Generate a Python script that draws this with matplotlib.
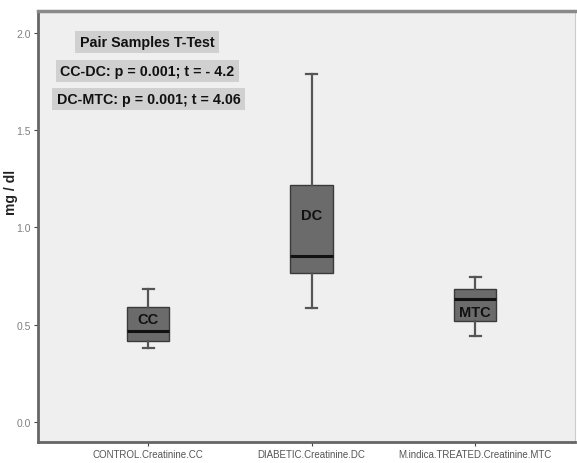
import matplotlib
matplotlib.use("Agg")
import matplotlib.pyplot as plt

plt.rcParams['font.family'] = ['Liberation Sans', 'DejaVu Sans']

categories = ["CONTROL.Creatinine.CC", "DIABETIC.Creatinine.DC", "M.indica.TREATED.Creatinine.MTC"]
box_labels = ["CC", "DC", "MTC"]
whislo = [0.38, 0.585, 0.442]
q1 = [0.416, 0.766, 0.519]
med = [0.468, 0.853, 0.632]
q3 = [0.59, 1.218, 0.683]
whishi = [0.683, 1.788, 0.745]
label_y = [0.53, 1.064, 0.565]
yticks = [0.0, 0.5, 1.0, 1.5, 2.0]
annotations = ["Pair Samples T-Test", "CC-DC: p = 0.001; t = - 4.2", "DC-MTC: p = 0.001; t = 4.06"]

fig = plt.figure(figsize=(5.77, 4.64), dpi=100)
ax = fig.add_axes([38/577, 21/464, 537/577, 431/464])
ax.set_facecolor('#efefef')

stats = []
for i in range(3):
    stats.append(dict(whislo=whislo[i], q1=q1[i], med=med[i], q3=q3[i], whishi=whishi[i], fliers=[]))

ax.bxp(stats, positions=[1, 2, 3], widths=0.26, patch_artist=True, showfliers=False,
       boxprops=dict(facecolor='#6b6b6b', edgecolor='#3a3a3a', linewidth=1.0),
       medianprops=dict(color='#111111', linewidth=2.2),
       whiskerprops=dict(color='#555555', linewidth=1.6),
       capprops=dict(color='#555555', linewidth=1.6),
       capwidths=0.068)

for i, lab in enumerate(box_labels):
    ax.text(i + 1, label_y[i], lab, ha='center', va='center', fontsize=10.5,
            fontweight='bold', color='#111111')

ax.set_xlim(0.327, 3.61)
ax.set_ylim(-0.103, 2.112)
ax.set_yticks(yticks)
ax.set_yticklabels([f"{v:.1f}" for v in yticks], fontsize=7.5, color='#808080')
ax.set_xticks([1, 2, 3])
ax.set_xticklabels(categories, fontsize=7, color='#555555')
ax.tick_params(axis='both', length=3, width=0.8, color='#444444', pad=2)
ax.set_ylabel("mg / dl", fontsize=10, fontweight='bold', color='#222222')
ax.yaxis.set_label_coords(-0.038, 0.582)

for side in ['left', 'bottom']:
    ax.spines[side].set_linewidth(2.0)
    ax.spines[side].set_color('#666666')
ax.spines['top'].set_linewidth(2.5)
ax.spines['top'].set_color('#8a8a8a')
ax.spines['right'].set_linewidth(0.8)
ax.spines['right'].set_color('#cccccc')

ann_y = [0.928, 0.861, 0.796]
ann_x = [0.203, 0.204, 0.206]
for t, x, y in zip(annotations, ann_x, ann_y):
    ax.text(x, y, t, transform=ax.transAxes, ha='center', va='center', fontsize=10.3,
            fontweight='bold', color='#111111',
            bbox=dict(boxstyle='square,pad=0.3', facecolor='#d0d0d0', edgecolor='none'))

fig.savefig("out.png", dpi=100, facecolor='white')
